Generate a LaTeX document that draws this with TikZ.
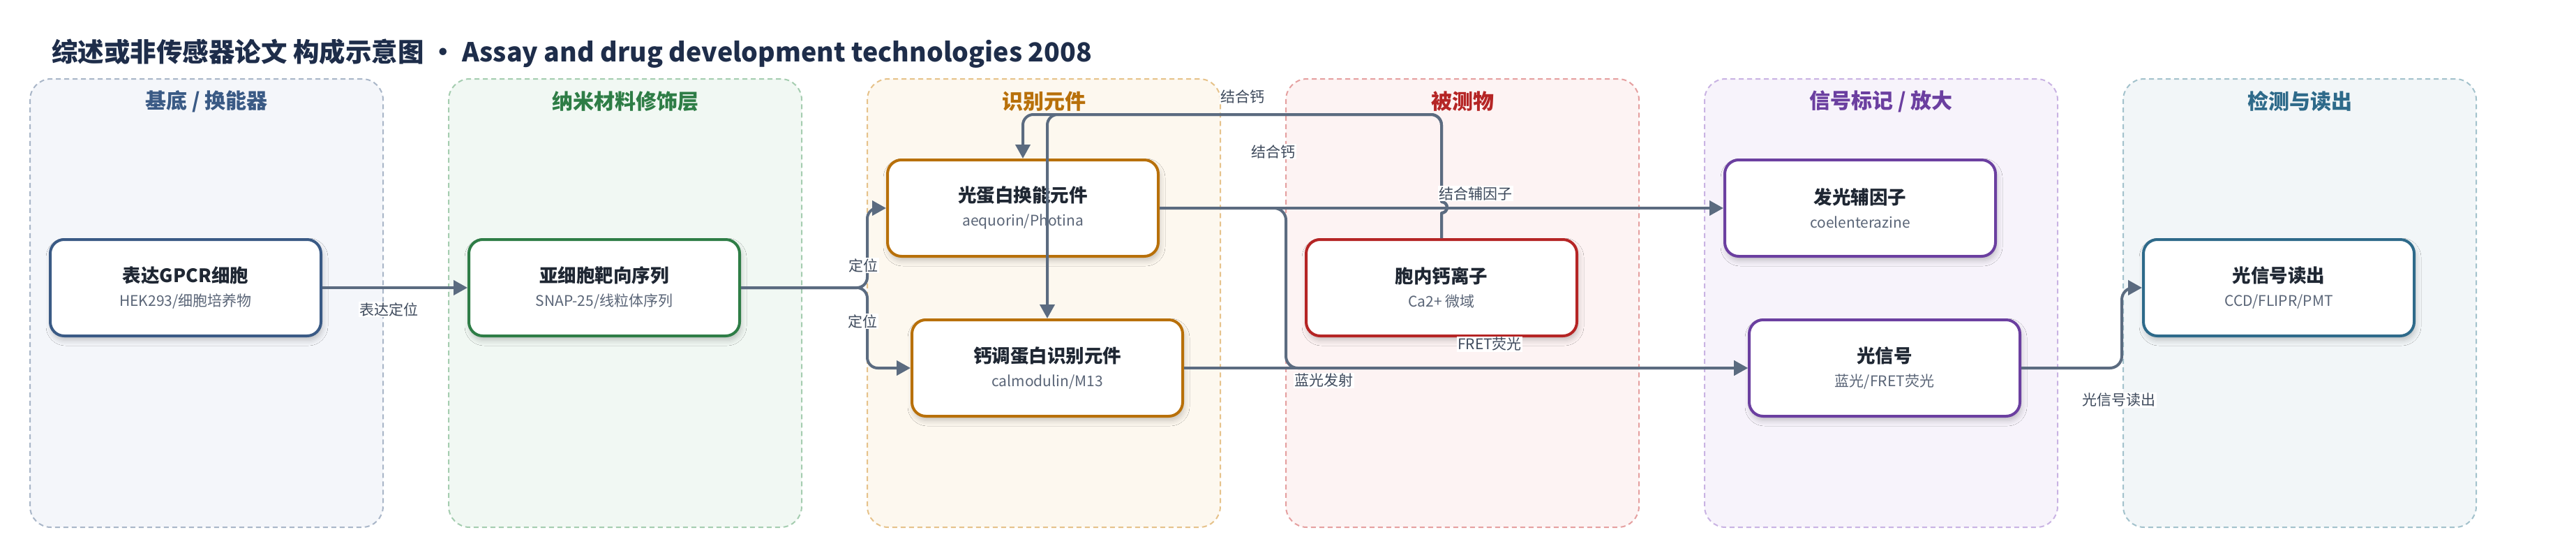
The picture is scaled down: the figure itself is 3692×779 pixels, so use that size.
\documentclass[tikz,border=0pt]{standalone}
\usepackage{fontspec}
\setmainfont{Noto Sans CJK SC}
\usetikzlibrary{arrows.meta,shadows.blur}

\definecolor{edgec}{HTML}{5B6B80}
\definecolor{labtext}{HTML}{3E4A5C}
\definecolor{maintext}{HTML}{1F2733}
\definecolor{subtext}{HTML}{5A6577}
\definecolor{titlec}{HTML}{1E2D4A}
% lane 1
\definecolor{fillA}{HTML}{F4F6FA}\definecolor{bordA}{HTML}{A9B6C8}\definecolor{colA}{HTML}{3A5A85}
% lane 2
\definecolor{fillB}{HTML}{F1F8F3}\definecolor{bordB}{HTML}{A5CDB0}\definecolor{colB}{HTML}{2E7D46}
% lane 3
\definecolor{fillC}{HTML}{FDF8EF}\definecolor{bordC}{HTML}{E6C28A}\definecolor{colC}{HTML}{B8700A}
% lane 4
\definecolor{fillD}{HTML}{FDF3F3}\definecolor{bordD}{HTML}{E5A0A0}\definecolor{colD}{HTML}{B52525}
% lane 5
\definecolor{fillE}{HTML}{F7F3FB}\definecolor{bordE}{HTML}{C9B3E3}\definecolor{colE}{HTML}{6B3FA0}
% lane 6
\definecolor{fillF}{HTML}{F2F6F8}\definecolor{bordF}{HTML}{A3C2CC}\definecolor{colF}{HTML}{2E6A8A}

\begin{document}
\begin{tikzpicture}[x=1pt,y=-1pt,
  lanebox/.style={rectangle, rounded corners=30pt, dash pattern=on 7pt off 5pt,
    line width=2pt, minimum width=506pt, minimum height=642pt, inner sep=0pt},
  lanetitle/.style={font=\fontsize{30}{34}\selectfont\bfseries, inner sep=0pt},
  box/.style={rectangle, rounded corners=20pt, fill=white, line width=4pt,
    minimum width=388pt, minimum height=138pt, align=center, inner sep=0pt,
    font=\fontsize{26.5}{34}\selectfont, text=maintext,
    blur shadow={shadow xshift=2pt, shadow yshift=-6pt, shadow blur radius=8pt, shadow opacity=22}},
  conn/.style={draw=edgec, line width=4pt, line join=round,
    -{Triangle[length=20pt,width=21pt]}},
  elabel/.style={fill=white, inner sep=1.5pt, text=labtext, font=\fontsize{21}{24}\selectfont}
]
\useasboundingbox (0,0) rectangle (3692,779);

% title
\node[anchor=west, inner sep=0pt, text=titlec, font=\fontsize{37.5}{42}\selectfont\bfseries]
  (title) at (74,77) {综述或非传感器论文 构成示意图 • Assay and drug development technologies 2008};

% lanes
\node[lanebox, fill=fillA, draw=bordA] (lane1) at (296,434) {};
\node[lanebox, fill=fillB, draw=bordB] (lane2) at (896,434) {};
\node[lanebox, fill=fillC, draw=bordC] (lane3) at (1496,434) {};
\node[lanebox, fill=fillD, draw=bordD] (lane4) at (2096,434) {};
\node[lanebox, fill=fillE, draw=bordE] (lane5) at (2696,434) {};
\node[lanebox, fill=fillF, draw=bordF] (lane6) at (3296,434) {};

\node[lanetitle, text=colA] (t1) at (296,145) {基底 / 换能器};
\node[lanetitle, text=colB] (t2) at (896,145) {纳米材料修饰层};
\node[lanetitle, text=colC] (t3) at (1496,145) {识别元件};
\node[lanetitle, text=colD] (t4) at (2096,145) {被测物};
\node[lanetitle, text=colE] (t5) at (2696,145) {信号标记 / 放大};
\node[lanetitle, text=colF] (t6) at (3296,145) {检测与读出};

% nodes
\newcommand\subl[1]{{\fontsize{21}{24}\selectfont\mdseries\color{subtext}#1}}
\node[box, draw=colA] (A) at (266,412) {\textbf{表达GPCR细胞}\\\subl{HEK293/细胞培养物}};
\node[box, draw=colB] (B) at (866,412) {\textbf{亚细胞靶向序列}\\\subl{SNAP-25/线粒体序列}};
\node[box, draw=colC] (C) at (1466,298) {\textbf{光蛋白换能元件}\\\subl{aequorin/Photina}};
\node[box, draw=colC] (D) at (1501,527) {\textbf{钙调蛋白识别元件}\\\subl{calmodulin/M13}};
\node[box, draw=colD] (E) at (2066,412) {\textbf{胞内钙离子}\\\subl{Ca2+ 微域}};
\node[box, draw=colE] (F) at (2666,298) {\textbf{发光辅因子}\\\subl{coelenterazine}};
\node[box, draw=colE] (G) at (2701,527) {\textbf{光信号}\\\subl{蓝光/FRET荧光}};
\node[box, draw=colF] (H) at (3266,412) {\textbf{光信号读出}\\\subl{CCD/FLIPR/PMT}};

% connectors
\draw[conn] (A.east) -- (B.west);
\draw[conn, rounded corners=15pt] (B.east) -- ++(181,0) |- (C.west);
\draw[conn, rounded corners=15pt] (B.east) -- ++(181,0) |- (D.west);
\draw[conn] (C.east) -- (F.west);
\draw[conn, rounded corners=17pt] (C.east) -- ++(181,0) |- (G.west);
\draw[conn] (D.east) -- (G.west);
\draw[conn, rounded corners=17pt] (G.east) -- ++(144,0) |- (H.west);
\draw[conn] (E.north) -- ++(0,-36) arc[start angle=-90, end angle=90, radius=8pt]
  [rounded corners=15pt] -- ++(0,-125) -| (C.north);
\draw[conn] (E.north) -- ++(0,-36) arc[start angle=-90, end angle=90, radius=8pt]
  [rounded corners=15pt] -- ++(0,-125) -| (D.north);

% labels
\node[elabel] (l1) at (557,443) {表达定位};
\node[elabel] (l2) at (1237,380) {定位};
\node[elabel] (l3) at (1236,460) {定位};
\node[elabel] (l4) at (1781,138) {结合钙};
\node[elabel] (l5) at (1825,217) {结合钙};
\node[elabel] (l6) at (2115,277) {结合辅因子};
\node[elabel] (l7) at (1897,545) {蓝光发射};
\node[elabel] (l8) at (2135,493) {FRET荧光};
\node[elabel] (l9) at (3037,573) {光信号读出};
\end{tikzpicture}
\end{document}
